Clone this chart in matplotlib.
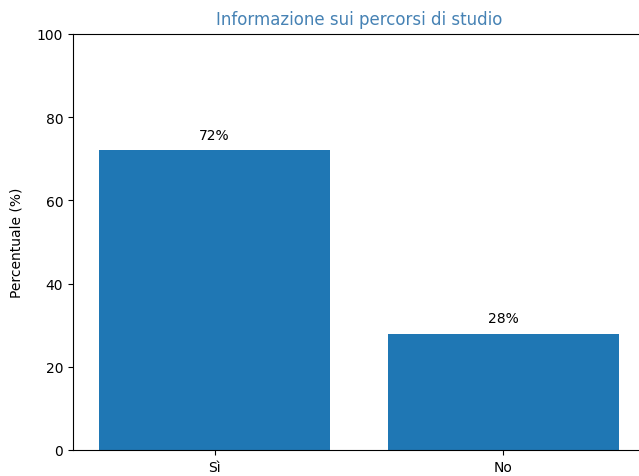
import matplotlib
matplotlib.use("Agg")
import matplotlib.pyplot as plt

categories = ["Sì", "No"]
percentages = [72, 28]
title = "Informazione sui percorsi di studio"
y_label = "Percentuale (%)"


def plot_bars(output_path: str) -> None:
    fig = plt.figure(figsize=(6.39, 4.77), dpi=100)
    # the original image is cropped at the right edge, so the axes runs off the figure
    ax = fig.add_axes([73 / 639, 26 / 477, 572 / 639, 416 / 477])

    positions = range(len(categories))
    ax.bar(positions, percentages, width=0.8, color="#1f77b4")

    ax.set_xticks(list(positions))
    ax.set_xticklabels(categories)
    ax.set_ylim(0, 100)
    ax.set_ylabel(y_label, labelpad=10)
    ax.set_title(title, color="#4682b4", fontsize=12, pad=7)

    for x, value in zip(positions, percentages):
        ax.text(x, value + 2, f"{value}%", ha="center", va="bottom", fontsize=10)

    fig.savefig(output_path, dpi=100)
    plt.close(fig)


if __name__ == "__main__":
    plot_bars("out.png")
